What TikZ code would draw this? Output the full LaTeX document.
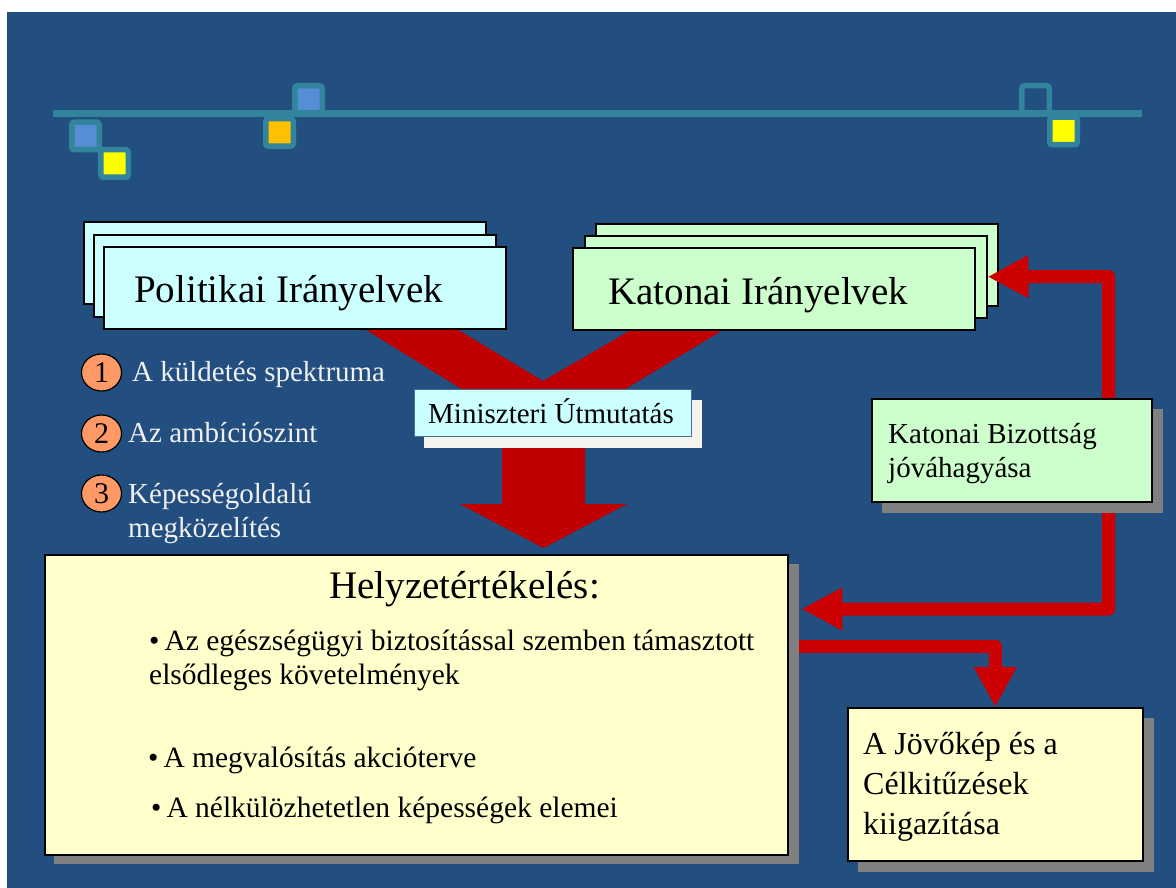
\documentclass[tikz,border=0pt]{standalone}
\usepackage{fontspec}
\setmainfont{Liberation Serif}
\usetikzlibrary{arrows.meta,shapes.geometric}

\definecolor{bgblue}{HTML}{224E80}
\definecolor{tealline}{HTML}{31849B}
\definecolor{sqblue}{HTML}{558ED5}
\definecolor{sqyellow}{HTML}{FFFF00}
\definecolor{sqorange}{HTML}{FFC000}
\definecolor{polcyan}{HTML}{CCFFFF}
\definecolor{milgreen}{HTML}{CCFFCC}
\definecolor{paleyellow}{HTML}{FFFFCC}
\definecolor{shadowgray}{HTML}{808080}
\definecolor{lightshadow}{HTML}{F5F3EF}
\definecolor{bigred}{HTML}{C00000}
\definecolor{connred}{HTML}{CC0000}
\definecolor{numorange}{HTML}{FF9966}
\definecolor{labelwhite}{HTML}{F0F0F0}
\definecolor{minborder}{HTML}{4A6E99}

\newcommand{\fsz}[1]{\fontsize{#1}{#1}\selectfont}

\begin{document}
\begin{tikzpicture}[x=1pt,y=-1pt,
  sheet/.style={draw=black, line width=1.5pt, minimum width=402pt, minimum height=82pt, anchor=north west, inner sep=0pt},
  box/.style={draw=black, line width=1.5pt, anchor=north west, inner sep=0pt},
  shadow/.style={fill=shadowgray, anchor=north west, inner sep=0pt},
  txt/.style={anchor=base west, inner sep=0pt, text=black},
  lbl/.style={anchor=base west, inner sep=0pt, text=labelwhite},
  sq/.style={draw=tealline, line width=5.5pt, rounded corners=2.5pt, minimum size=27.5pt, inner sep=0pt},
  num/.style={ellipse, draw=black, line width=1.2pt, fill=numorange, minimum width=40pt, minimum height=37pt, inner sep=0pt},
  conn/.style={draw=connred, line width=13pt, line join=round}
]
\useasboundingbox (0,0) rectangle (1176,888);
\fill[white] (0,0) rectangle (1176,888);
\fill[bgblue] (7,12) rectangle (1176,888);

% decorative squares on the header rule
\node[sq, fill=sqblue]   (s1) at (85.5,136) {};
\node[sq, fill=sqyellow] (s2) at (114.5,163.5) {};
\node[sq, fill=sqorange] (s3) at (279.5,132.5) {};
\node[sq, fill=sqblue]   (s4) at (308.5,99.5) {};
\node[sq]                (s5) at (1035.5,99.5) {};
\node[sq, fill=sqyellow] (s6) at (1063.5,131) {};
\draw[tealline, line width=7pt] (53,113.5) -- (1142,113.5);

% merging red arrow
\fill[bigred] (363,328) -- (455,328) -- (543,381) -- (631,330) -- (723,330)
  -- (627,388) -- (585,420) -- (585,504) -- (627,504) -- (543.5,548)
  -- (460,504) -- (502,504) -- (502,420) -- (460,388) -- cycle;

% political guidance stack
\node[sheet, fill=polcyan] (p3) at (83,221) {};
\node[sheet, fill=polcyan] (p2) at (93,234) {};
\node[sheet, fill=polcyan] (p1) at (103,246) {};
\node[txt, font=\fsz{39}] (ptext) at (134,302) {Politikai Irányelvek};

% military guidance stack
\node[sheet, fill=milgreen] (k3) at (595,223) {};
\node[sheet, fill=milgreen] (k2) at (584,235) {};
\node[sheet, fill=milgreen] (k1) at (572,247) {};
\node[txt, font=\fsz{39}] (ktext) at (608,304) {Katonai Irányelvek};

% ministerial guidance
\node[anchor=north west, inner sep=0pt, fill=lightshadow, minimum width=278pt, minimum height=48pt] (ms) at (424,400) {};
\node[anchor=north west, inner sep=0pt, fill=polcyan, draw=minborder, line width=1pt, minimum width=277pt, minimum height=47pt] (mb) at (414,389) {};
\node[txt, font=\fsz{29}] (mtext) at (428,423) {Miniszteri Útmutatás};

% numbered items
\node[num, font=\fsz{30}] (n1) at (101.5,372.5) {1};
\node[num, font=\fsz{30}] (n2) at (101.5,433.5) {2};
\node[num, font=\fsz{30}] (n3) at (101.5,493.5) {3};
\node[lbl, font=\fsz{29}] (l1) at (132,381) {A küldetés spektruma};
\node[lbl, font=\fsz{29}] (l2) at (128,442) {Az ambíciószint};
\node[lbl, font=\fsz{29}] (l3a) at (128,503) {Képességoldalú};
\node[lbl, font=\fsz{29}] (l3b) at (128,537) {megközelítés};

% situation assessment
\node[shadow, minimum width=745pt, minimum height=300pt] (hzs) at (54,564) {};
\node[box, fill=paleyellow, minimum width=743pt, minimum height=300pt] (hz) at (44,554) {};
\node[txt, font=\fsz{39}] (htitle) at (329,598) {Helyzetértékelés:};
\node[txt, font=\fsz{29.5}] (hb1a) at (149,650) {•\kern5pt Az egészségügyi biztosítással szemben támasztott};
\node[txt, font=\fsz{29.5}] (hb1b) at (149,684) {elsődleges követelmények};
\node[txt, font=\fsz{29.5}] (hb2) at (148,767) {•\kern5pt A megvalósítás akcióterve};
\node[txt, font=\fsz{29.5}] (hb3) at (151,817) {•\kern5pt A nélkülözhetetlen képességek elemei};

% feedback loop through the Military Committee
\coordinate (t1) at (1108.5,276.5);
\coordinate (t2) at (1108.5,609);
\draw[conn, {Triangle[length=41pt 0, width=40pt 0]}-{Triangle[length=41pt 0, width=40pt 0]}]
  (k2.east) -- (t1) -- (t2) -- ([xshift=2pt]hzs.east |- t2);

\node[shadow, minimum width=281pt, minimum height=104pt] (kbs) at (882,409) {};
\node[box, fill=milgreen, minimum width=280pt, minimum height=103pt] (kb) at (871,398) {};
\node[txt, font=\fsz{29}] (kbt1) at (888,443) {Katonai Bizottság};
\node[txt, font=\fsz{29}] (kbt2) at (888,477) {jóváhagyása};

% vision and objectives
\node[shadow, minimum width=296pt, minimum height=154pt] (jvs) at (858,718) {};
\node[box, fill=paleyellow, minimum width=295pt, minimum height=153pt] (jv) at (847,707) {};
\node[txt, font=\fsz{32}] (jt1) at (863,754) {A Jövőkép és a};
\node[txt, font=\fsz{32}] (jt2) at (863,794) {Célkitűzések};
\node[txt, font=\fsz{32}] (jt3) at (863,834) {kiigazítása};

\coordinate (r2) at (0,646.5);
\draw[conn, -{Triangle[length=40pt 0, width=40pt 0]}]
  (hzs.east |- r2) -- (jv.north |- r2) -- (jv.north);
\end{tikzpicture}
\end{document}
